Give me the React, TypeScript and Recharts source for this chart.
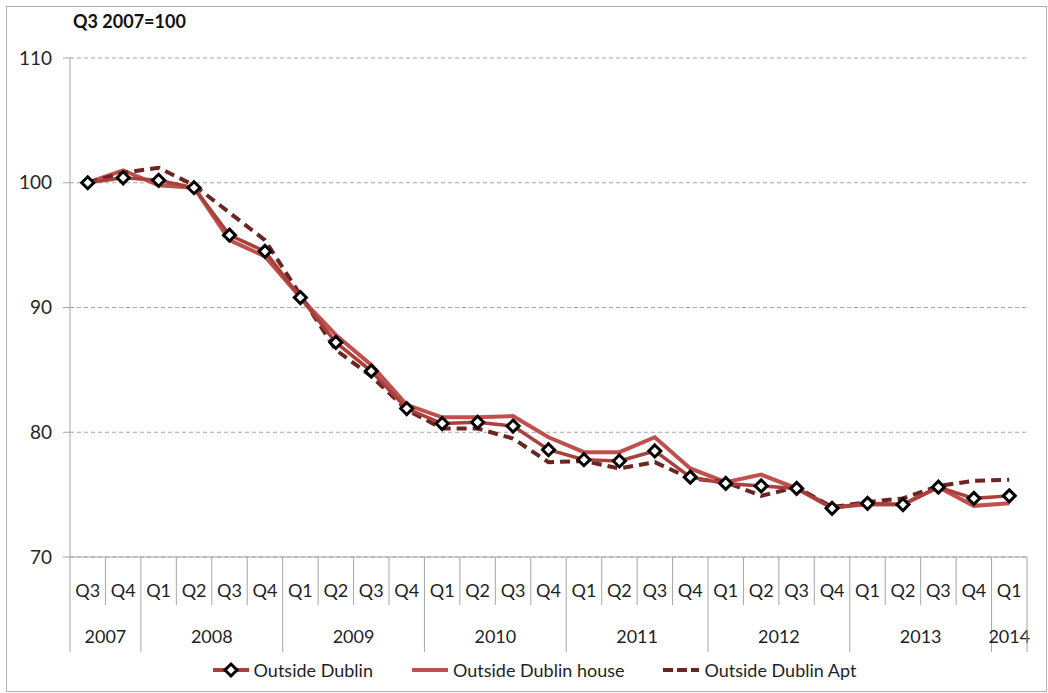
import { CartesianGrid, Line, LineChart, XAxis, YAxis } from "recharts";

const FONT = "Lato, 'Open Sans', sans-serif";

const QUARTERS = [
    "Q3", "Q4",
    "Q1", "Q2", "Q3", "Q4",
    "Q1", "Q2", "Q3", "Q4",
    "Q1", "Q2", "Q3", "Q4",
    "Q1", "Q2", "Q3", "Q4",
    "Q1", "Q2", "Q3", "Q4",
    "Q1", "Q2", "Q3", "Q4",
    "Q1",
];
const YEARS = ["2007", "2008", "2009", "2010", "2011", "2012", "2013", "2014"];
const QUARTERS_PER_YEAR = [2, 4, 4, 4, 4, 4, 4, 1];

const OUTSIDE_DUBLIN = [
    100, 100.4, 100.2, 99.6, 95.8, 94.5, 90.8, 87.2, 84.9, 81.9, 80.7, 80.8, 80.5, 78.6,
    77.8, 77.7, 78.5, 76.4, 75.9, 75.7, 75.5, 73.9, 74.3, 74.2, 75.6, 74.7, 74.9,
];
const OUTSIDE_DUBLIN_HOUSE = [
    100, 101.0, 99.8, 99.6, 95.4, 94.1, 90.8, 87.8, 85.4, 82.2, 81.2, 81.2, 81.3, 79.6,
    78.4, 78.4, 79.6, 77.1, 76.0, 76.6, 75.5, 74.0, 74.2, 74.2, 75.6, 74.1, 74.3,
];
const OUTSIDE_DUBLIN_APT = [
    100, 100.8, 101.2, 99.8, 97.6, 95.4, 91.0, 86.6, 84.5, 81.8, 80.3, 80.3, 79.5, 77.6,
    77.7, 77.1, 77.6, 76.3, 76.0, 74.9, 75.6, 74.0, 74.4, 74.7, 75.7, 76.1, 76.2,
];
const Y_TICKS = [70, 80, 90, 100, 110];

const COLOR_DUBLIN = "#a8403d";
const COLOR_HOUSE = "#c0504d";
const COLOR_APT = "#6b2523";
const AXIS_GRAY = "#a6a6a6";

const data = QUARTERS.map((q, i) => ({
    key: `${i}`,
    q,
    pos: i + 0.5,
    dublin: OUTSIDE_DUBLIN[i],
    house: OUTSIDE_DUBLIN_HOUSE[i],
    apt: OUTSIDE_DUBLIN_APT[i],
}));

// year boundaries + label centres on a 0..N numeric axis laid over the quarter bands
const yearStarts: number[] = [];
QUARTERS_PER_YEAR.reduce((s, n) => {
    yearStarts.push(s);
    return s + n;
}, 0);
const yearCentre = new Map<number, string>();
YEARS.forEach((y, i) => yearCentre.set(yearStarts[i] + QUARTERS_PER_YEAR[i] / 2, y));
const boundarySet = new Set([...yearStarts, QUARTERS.length]);
const yearAxisTicks = Array.from(
    new Set([
        ...Array.from({ length: QUARTERS.length + 1 }, (_, i) => i),
        ...yearCentre.keys(),
    ]),
).sort((a, b) => a - b);

const Q_AXIS_H = 48;
const YR_AXIS_H = 47;

function QuarterTick({ x, y, payload }: any) {
    return (
        <text x={x} y={y + 40} textAnchor="middle" fontSize={18} fontFamily={FONT} fill="#1f1f1f">
            {QUARTERS[payload.index] ?? payload.value}
        </text>
    );
}

function YearTick({ x, y, payload }: any) {
    const v = payload.value as number;
    const label = yearCentre.get(v);
    const isInt = Number.isInteger(v);
    return (
        <g>
            {isInt && (
                <line
                    x1={x}
                    x2={x}
                    y1={y - Q_AXIS_H}
                    y2={boundarySet.has(v) ? y + YR_AXIS_H : y}
                    stroke={AXIS_GRAY}
                    strokeWidth={1}
                />
            )}
            {label && (
                <text x={x} y={y + 38} textAnchor="middle" fontSize={18} fontFamily={FONT} fill="#1f1f1f">
                    {label}
                </text>
            )}
        </g>
    );
}

function DiamondDot({ cx, cy }: any) {
    if (cx == null || cy == null) return null;
    const r = 6;
    return (
        <polygon
            points={`${cx},${cy - r} ${cx + r},${cy} ${cx},${cy + r} ${cx - r},${cy}`}
            fill="#fff"
            stroke="#000"
            strokeWidth={3}
        />
    );
}

const LEGEND = [
    { name: "Outside Dublin", color: COLOR_DUBLIN, dash: undefined, marker: true },
    { name: "Outside Dublin house", color: COLOR_HOUSE, dash: undefined, marker: false },
    { name: "Outside Dublin Apt", color: COLOR_APT, dash: "10 4", marker: false },
];

export default function App() {
    return (
        <div style={{ position: "relative", width: 1048, height: 693, fontFamily: FONT }}>
            <style>{"body{margin:0}"}</style>
            <div
                style={{
                    position: "absolute",
                    left: 6,
                    top: 6,
                    width: 1041,
                    height: 686,
                    border: "1px solid #b0b0b0",
                    boxSizing: "border-box",
                }}
            />
            <div
                style={{
                    position: "absolute",
                    left: 73,
                    top: 10,
                    fontSize: 18,
                    fontWeight: 700,
                    color: "#111",
                }}
            >
                Q3 2007=100
            </div>
            <div style={{ position: "absolute", left: 0, top: 0 }}>
                <LineChart
                    width={1048}
                    height={693}
                    data={data}
                    margin={{ top: 58, right: 21, left: 0, bottom: 41 }}
                >
                    <CartesianGrid
                        xAxisId="q"
                        vertical={false}
                        stroke={AXIS_GRAY}
                        strokeDasharray="4 3"
                    />
                    <XAxis
                        xAxisId="q"
                        dataKey="key"
                        scale="band"
                        height={Q_AXIS_H}
                        interval={0}
                        tickLine={false}
                        tickSize={0}
                        tickMargin={0}
                        axisLine={{ stroke: AXIS_GRAY }}
                        tick={<QuarterTick />}
                    />
                    <XAxis
                        xAxisId="yr"
                        dataKey="pos"
                        type="number"
                        domain={[0, QUARTERS.length]}
                        ticks={yearAxisTicks}
                        interval={0}
                        height={YR_AXIS_H}
                        tickLine={false}
                        tickSize={0}
                        tickMargin={0}
                        axisLine={false}
                        tick={<YearTick />}
                    />
                    <YAxis
                        width={70}
                        domain={[70, 110]}
                        ticks={Y_TICKS}
                        interval={0}
                        tickSize={7}
                        tickMargin={11}
                        axisLine={{ stroke: AXIS_GRAY }}
                        tickLine={{ stroke: AXIS_GRAY }}
                        tick={{ fontSize: 19, fontFamily: FONT, fill: "#262626" }}
                    />
                    <Line
                        xAxisId="q"
                        dataKey="house"
                        stroke={COLOR_HOUSE}
                        strokeWidth={4}
                        dot={false}
                        isAnimationActive={false}
                    />
                    <Line
                        xAxisId="q"
                        dataKey="apt"
                        stroke={COLOR_APT}
                        strokeWidth={4}
                        strokeDasharray="10 6"
                        dot={false}
                        isAnimationActive={false}
                    />
                    <Line
                        xAxisId="q"
                        dataKey="dublin"
                        stroke={COLOR_DUBLIN}
                        strokeWidth={3.5}
                        dot={<DiamondDot />}
                        activeDot={false}
                        isAnimationActive={false}
                    />
                </LineChart>
            </div>
            <div
                style={{
                    position: "absolute",
                    left: 0,
                    width: 1048,
                    top: 659,
                    display: "flex",
                    justifyContent: "center",
                    gap: 38,
                    fontSize: 18,
                    color: "#1f1f1f",
                    paddingLeft: 20,
                    boxSizing: "border-box",
                }}
            >
                {LEGEND.map((l) => (
                    <div key={l.name} style={{ display: "flex", alignItems: "center", gap: 4 }}>
                        <svg width={38} height={20}>
                            <line
                                x1={1}
                                x2={37}
                                y1={10}
                                y2={10}
                                stroke={l.color}
                                strokeWidth={4}
                                strokeDasharray={l.dash}
                            />
                            {l.marker && (
                                <polygon points="19,4 25,10 19,16 13,10" fill="#fff" stroke="#000" strokeWidth={3} />
                            )}
                        </svg>
                        <span>{l.name}</span>
                    </div>
                ))}
            </div>
        </div>
    );
}
